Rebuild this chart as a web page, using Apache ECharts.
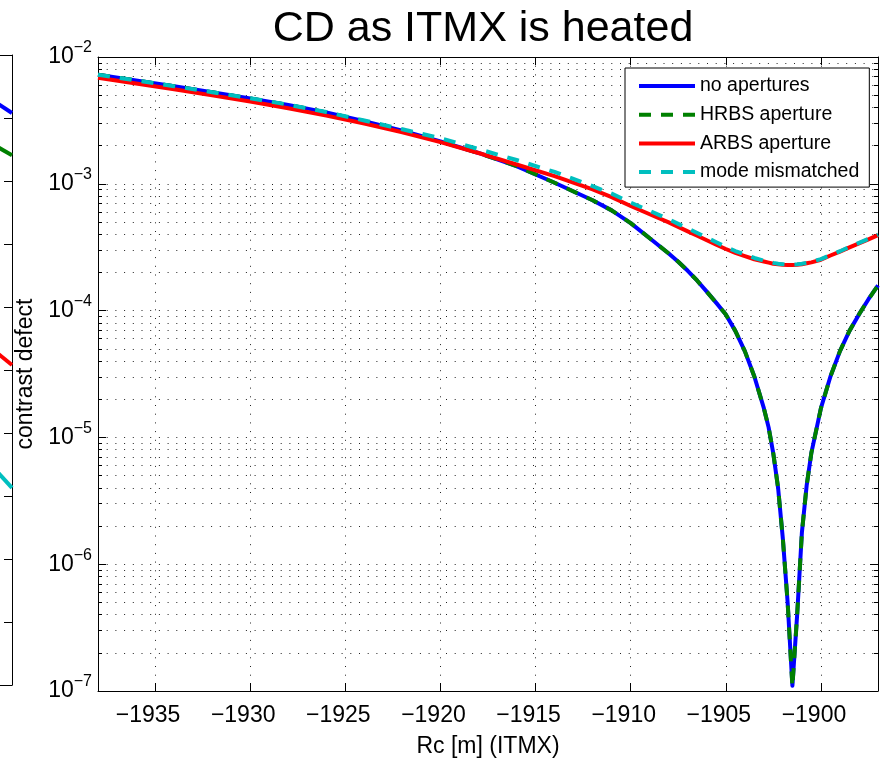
<!DOCTYPE html>
<html>
<head>
<meta charset="utf-8">
<title>CD as ITMX is heated</title>
<script src="https://cdn.jsdelivr.net/npm/echarts@6/dist/echarts.min.js"></script>
<style>
  html, body { margin: 0; padding: 0; background: #fff; }
  #main { width: 880px; height: 760px; }
</style>
</head>
<body>
<div id="main"></div>
<script>
// radius of curvature of ITMX [m]
const rc = [
  -1938, -1936, -1934, -1932, -1930, -1928, -1926, -1924, -1922, -1920,
  -1918, -1916, -1914, -1912, -1911, -1910, -1909, -1908, -1907.5, -1907,
  -1906.5, -1906, -1905.5, -1905, -1904.5, -1904, -1903.5, -1903, -1902.75, -1902.5,
  -1902.25, -1902, -1901.75, -1901.5, -1901.25, -1901, -1900.75, -1900.5, -1900, -1899.5,
  -1899, -1898.5, -1898, -1897.5, -1897
];

// contrast defect, one list per case
const noApertures = [
  7.24e-3, 6.53e-3, 5.87e-3, 5.27e-3, 4.71e-3, 4.19e-3, 3.66e-3, 3.12e-3, 2.62e-3, 2.16e-3,
  1.75e-3, 1.38e-3, 1.02e-3, 7.41e-4, 6.17e-4, 4.90e-4, 3.72e-4, 2.82e-4, 2.43e-4, 2.06e-4,
  1.72e-4, 1.41e-4, 1.15e-4, 9.33e-5, 6.92e-5, 4.79e-5, 3.02e-5, 1.70e-5, 1.20e-5, 7.41e-6,
  3.98e-6, 1.58e-6, 5.0e-7, 1.10e-7, 3.98e-7, 1.78e-6, 4.17e-6, 7.59e-6, 1.70e-5, 3.02e-5,
  4.79e-5, 6.92e-5, 9.33e-5, 1.23e-4, 1.58e-4
];
const hrbsAperture = [
  7.24e-3, 6.53e-3, 5.87e-3, 5.27e-3, 4.71e-3, 4.19e-3, 3.66e-3, 3.12e-3, 2.62e-3, 2.16e-3,
  1.75e-3, 1.38e-3, 1.02e-3, 7.41e-4, 6.17e-4, 4.90e-4, 3.72e-4, 2.82e-4, 2.43e-4, 2.06e-4,
  1.72e-4, 1.41e-4, 1.15e-4, 9.33e-5, 6.92e-5, 4.79e-5, 3.02e-5, 1.70e-5, 1.20e-5, 7.41e-6,
  3.98e-6, 1.58e-6, 5.0e-7, 1.08e-7, 3.98e-7, 1.78e-6, 4.17e-6, 7.59e-6, 1.70e-5, 3.02e-5,
  4.79e-5, 6.92e-5, 9.33e-5, 1.23e-4, 1.58e-4
];
const arbsAperture = [
  6.86e-3, 6.17e-3, 5.56e-3, 4.98e-3, 4.45e-3, 3.94e-3, 3.45e-3, 2.99e-3, 2.55e-3, 2.13e-3,
  1.75e-3, 1.42e-3, 1.15e-3, 9.02e-4, 7.85e-4, 6.68e-4, 5.75e-4, 4.96e-4, 4.57e-4, 4.22e-4,
  3.89e-4, 3.59e-4, 3.31e-4, 3.06e-4, 2.85e-4, 2.69e-4, 2.54e-4, 2.44e-4, 2.39e-4, 2.34e-4,
  2.32e-4, 2.30e-4, 2.29e-4, 2.29e-4, 2.30e-4, 2.32e-4, 2.36e-4, 2.40e-4, 2.52e-4, 2.72e-4,
  2.92e-4, 3.15e-4, 3.39e-4, 3.65e-4, 3.94e-4
];
const modeMismatched = [
  7.24e-3, 6.53e-3, 5.89e-3, 5.28e-3, 4.73e-3, 4.21e-3, 3.68e-3, 3.16e-3, 2.69e-3, 2.29e-3,
  1.88e-3, 1.54e-3, 1.24e-3, 9.59e-4, 8.36e-4, 7.11e-4, 6.12e-4, 5.25e-4, 4.83e-4, 4.45e-4,
  4.09e-4, 3.77e-4, 3.46e-4, 3.18e-4, 2.95e-4, 2.77e-4, 2.60e-4, 2.48e-4, 2.43e-4, 2.38e-4,
  2.34e-4, 2.32e-4, 2.31e-4, 2.31e-4, 2.32e-4, 2.34e-4, 2.38e-4, 2.42e-4, 2.55e-4, 2.74e-4,
  2.94e-4, 3.18e-4, 3.42e-4, 3.68e-4, 3.97e-4
];

const xTicks = [-1935, -1930, -1925, -1920, -1915, -1910, -1905, -1900];

// the neighbouring subplot, only its right edge shows in the picture
const sideX = [0.95, 1];
const sideBlue = [9.24, 9.08];
const sideGreen = [8.55, 8.41];
const sideRed = [5.28, 5.08];
const sideCyan = [3.40, 3.13];

const FONT = 'Liberation Sans, Arial, Helvetica, sans-serif';
const BLUE = '#0000ff', GREEN = '#008000', RED = '#ff0000', CYAN = '#00bfbf';

const pairs = (xs, ys) => xs.map((x, i) => [x, ys[i]]);
const dots = {color: '#222', width: 1, type: [1, 7.7]};
const black = {color: '#000', width: 1};

function expLabel(v) {
  const e = Math.round(Math.log10(v));
  return '{b|10}{e|' + (e < 0 ? '\u2212' : '') + Math.abs(e) + '}';
}

function line(name, data, color, dashed, xi, yi) {
  return {
    name: name,
    type: 'line',
    xAxisIndex: xi,
    yAxisIndex: yi,
    data: data,
    symbol: 'none',
    smooth: false,
    silent: true,
    lineStyle: {
      color: color,
      width: 4,
      type: dashed ? [12, 10] : 'solid',
      cap: 'butt',
      join: 'round'
    },
    itemStyle: {color: color}
  };
}

const chart = echarts.init(document.getElementById('main'), null, {renderer: 'canvas'});

const option = {
  animation: false,
  backgroundColor: '#fff',
  textStyle: {fontFamily: FONT},
  graphic: [{
    type: 'text',
    x: 483,
    y: 29,
    style: {
      text: 'CD as ITMX is heated',
      font: '43px ' + FONT,
      fill: '#000',
      align: 'center',
      verticalAlign: 'middle'
    }
  }],
  grid: [
    {left: 98, top: 57, width: 780, height: 634, outerBoundsMode: 'none', containLabel: false},
    {left: -300, top: 55, width: 312, height: 630, outerBoundsMode: 'none', containLabel: false}
  ],
  legend: {
    data: ['no apertures', 'HRBS aperture', 'ARBS aperture', 'mode mismatched'],
    orient: 'vertical',
    left: 625,
    top: 68,
    itemWidth: 56,
    itemHeight: 20,
    itemGap: 8.7,
    padding: [8, 10, 5, 12],
    borderColor: '#000',
    borderWidth: 1,
    borderRadius: 0,
    backgroundColor: '#fff',
    selectedMode: false,
    itemStyle: {opacity: 0},
    lineStyle: {width: 4},
    textStyle: {fontSize: 19.5, fontFamily: FONT, color: '#000', lineHeight: 20}
  },
  xAxis: [
    {
      type: 'value', gridIndex: 0, position: 'bottom',
      min: -1938, max: -1897,
      name: 'Rc [m] (ITMX)', nameLocation: 'middle', nameGap: 44,
      nameTextStyle: {fontSize: 23, color: '#000', fontFamily: FONT},
      axisLine: {show: true, onZero: false, lineStyle: black},
      axisTick: {show: true, inside: true, length: 8, customValues: xTicks, lineStyle: black},
      axisLabel: {
        customValues: xTicks, fontSize: 23, color: '#000', margin: 13,
        padding: [0, 14, 0, 0],
        formatter: v => (v < 0 ? '\u2212' : '') + Math.abs(v)
      },
      splitLine: {show: true, lineStyle: dots}
    },
    {
      type: 'value', gridIndex: 0, position: 'top',
      min: -1938, max: -1897,
      axisLine: {show: true, onZero: false, lineStyle: black},
      axisTick: {show: true, inside: true, length: 8, customValues: xTicks, lineStyle: black},
      axisLabel: {show: false},
      splitLine: {show: false}
    },
    {
      type: 'value', gridIndex: 1, position: 'bottom', min: 0, max: 1,
      axisLine: {show: true, onZero: false, lineStyle: black},
      axisTick: {show: false}, axisLabel: {show: false}, splitLine: {show: false}
    },
    {
      type: 'value', gridIndex: 1, position: 'top', min: 0, max: 1,
      axisLine: {show: true, onZero: false, lineStyle: black},
      axisTick: {show: false}, axisLabel: {show: false}, splitLine: {show: false}
    }
  ],
  yAxis: [
    {
      type: 'log', gridIndex: 0, position: 'left', logBase: 10,
      min: 1e-7, max: 1e-2, splitNumber: 5,
      name: 'contrast defect', nameLocation: 'middle', nameGap: 52,
      nameTextStyle: {fontSize: 23, color: '#000', fontFamily: FONT},
      axisLine: {show: true, onZero: false, lineStyle: black},
      axisTick: {show: true, inside: true, length: 8, lineStyle: black},
      minorTick: {show: true, splitNumber: 9, length: 4, lineStyle: black},
      axisLabel: {
        margin: 6,
        formatter: expLabel,
        rich: {
          b: {fontSize: 23, color: '#000', fontFamily: FONT},
          e: {fontSize: 16, color: '#000', fontFamily: FONT, padding: [0, 0, 18, 0]}
        }
      },
      splitLine: {show: true, lineStyle: dots},
      minorSplitLine: {show: true, lineStyle: dots}
    },
    {
      type: 'log', gridIndex: 0, position: 'right', logBase: 10,
      min: 1e-7, max: 1e-2, splitNumber: 5,
      axisLine: {show: true, onZero: false, lineStyle: black},
      axisTick: {show: true, inside: true, length: 8, lineStyle: black},
      minorTick: {show: true, splitNumber: 9, length: 4, lineStyle: black},
      axisLabel: {show: false},
      splitLine: {show: false}
    },
    {
      type: 'value', gridIndex: 1, position: 'right', min: 0, max: 10, interval: 1,
      axisLine: {show: true, onZero: false, lineStyle: black},
      axisTick: {show: true, inside: true, length: 8, lineStyle: black},
      axisLabel: {show: false},
      splitLine: {show: false}
    }
  ],
  series: [
    line('no apertures', pairs(rc, noApertures), BLUE, false, 0, 0),
    line('HRBS aperture', pairs(rc, hrbsAperture), GREEN, true, 0, 0),
    line('ARBS aperture', pairs(rc, arbsAperture), RED, false, 0, 0),
    line('mode mismatched', pairs(rc, modeMismatched), CYAN, true, 0, 0),
    line('side blue', pairs(sideX, sideBlue), BLUE, false, 2, 2),
    line('side green', pairs(sideX, sideGreen), GREEN, false, 2, 2),
    line('side red', pairs(sideX, sideRed), RED, false, 2, 2),
    line('side cyan', pairs(sideX, sideCyan), CYAN, false, 2, 2)
  ]
};

chart.setOption(option);
</script>
</body>
</html>
